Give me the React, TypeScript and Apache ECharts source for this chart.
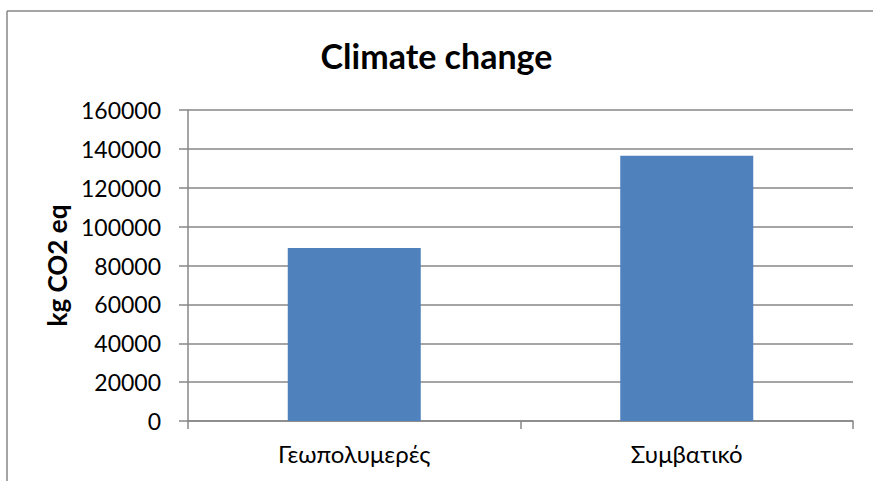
import React, { useEffect, useRef } from "react";
import * as echarts from "echarts";

const title = "Climate change";
const yAxisName = "kg CO2 eq";
const categories = ["Γεωπολυμερές", "Συμβατικό"];
const values = [89000, 136500];
const yTicks = { min: 0, max: 160000, interval: 20000 };

const FONT = "Lato, 'Open Sans', 'Noto Sans', sans-serif";
const GRAY = "#878787";

export default function App() {
  const ref = useRef<HTMLDivElement>(null);
  useEffect(() => {
    if (!ref.current) return;
    const chart = echarts.init(ref.current, null, { renderer: "svg" });
    chart.setOption({
      animation: false,
      backgroundColor: "#ffffff",
      title: {
        text: title,
        left: "center",
        top: 33,
        textStyle: { fontFamily: FONT, fontSize: 34, fontWeight: "bold", color: "#000" },
      },
      graphic: [
        {
          type: "line",
          shape: { x1: 7, y1: 11, x2: 873, y2: 11 },
          style: { stroke: GRAY, lineWidth: 1.5 },
          silent: true,
        },
        {
          type: "line",
          shape: { x1: 7, y1: 11, x2: 7, y2: 481 },
          style: { stroke: GRAY, lineWidth: 1.5 },
          silent: true,
        },
      ],
      grid: { left: 188, right: 20, top: 110, bottom: 60, containLabel: false },
      xAxis: {
        type: "category",
        data: categories,
        axisLine: { show: true, lineStyle: { color: GRAY, width: 1.5 } },
        axisTick: { show: true, length: 8, lineStyle: { color: GRAY, width: 1.5 } },
        axisLabel: { fontFamily: FONT, fontSize: 24, color: "#000", margin: 20 },
        splitLine: { show: false },
      },
      yAxis: {
        type: "value",
        min: yTicks.min,
        max: yTicks.max,
        interval: yTicks.interval,
        name: yAxisName,
        nameLocation: "middle",
        nameGap: 116,
        nameRotate: 90,
        nameTextStyle: { fontFamily: FONT, fontSize: 26, fontWeight: "bold", color: "#000" },
        axisLine: { show: true, lineStyle: { color: GRAY, width: 1.5 } },
        axisTick: { show: true, length: 9, lineStyle: { color: GRAY, width: 1.5 } },
        axisLabel: {
          fontFamily: FONT,
          fontSize: 23,
          color: "#000",
          margin: 27,
          formatter: (v: number) => String(v),
        },
        splitLine: { show: true, lineStyle: { color: GRAY, width: 1.5 } },
      },
      series: [
        {
          type: "bar",
          data: values,
          barWidth: "40%",
          itemStyle: { color: "#4F81BD" },
        },
      ],
    });
    return () => chart.dispose();
  }, []);
  return (
    <div
      ref={ref}
      style={{ position: "fixed", left: 0, top: 0, width: 873, height: 481 }}
    />
  );
}
